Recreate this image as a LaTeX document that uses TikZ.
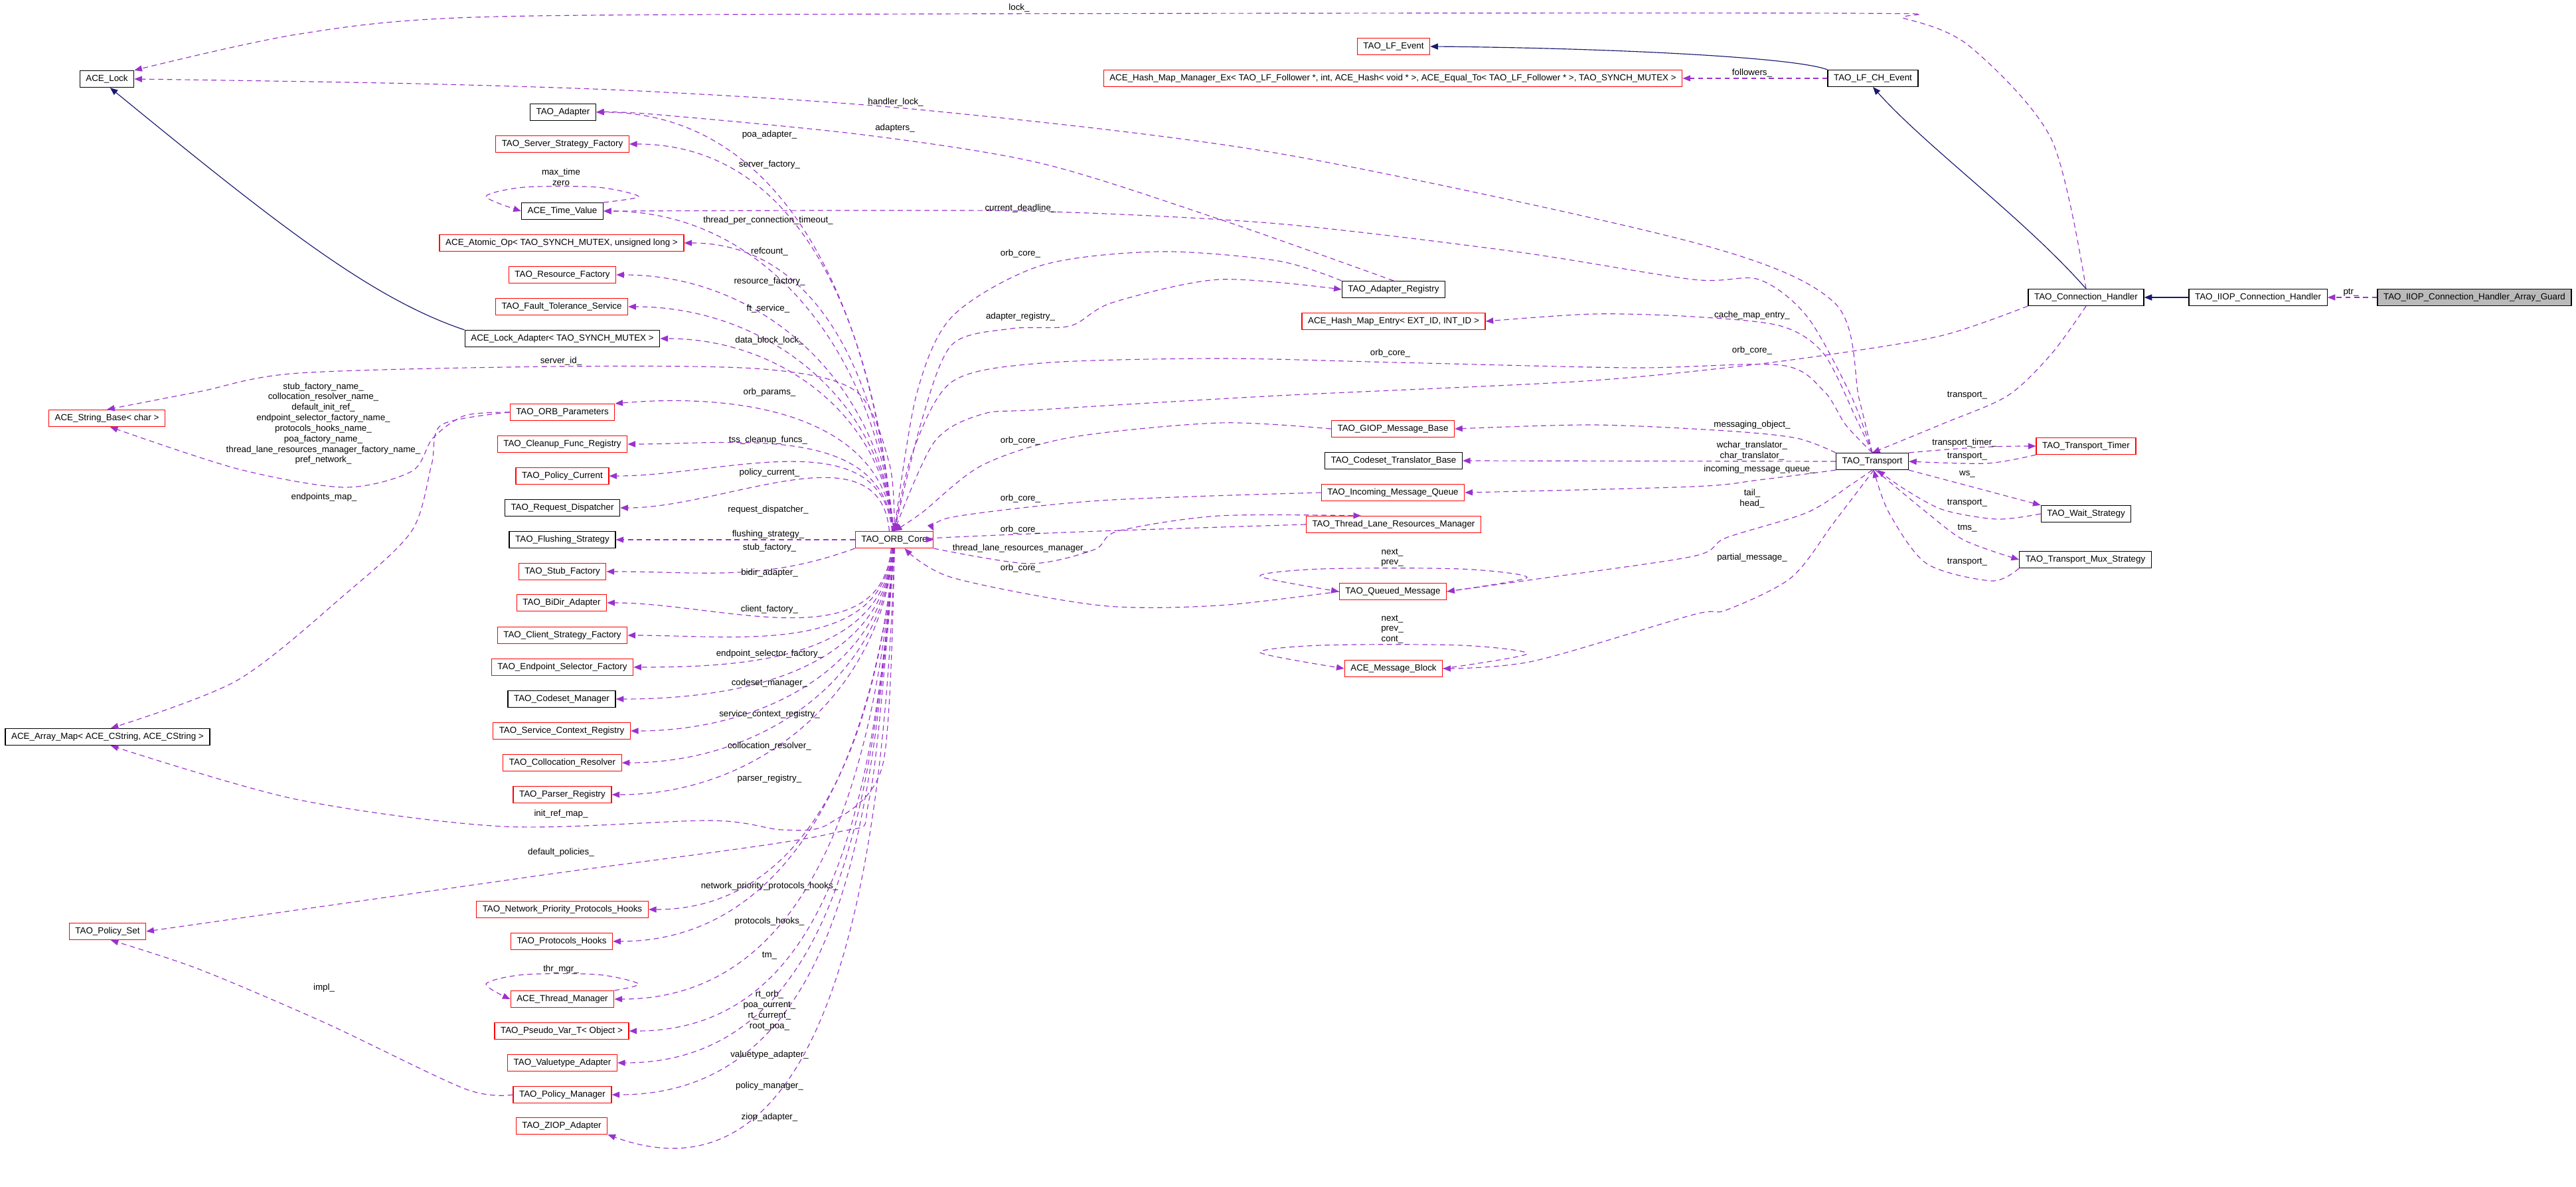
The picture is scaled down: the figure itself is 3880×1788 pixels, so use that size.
\documentclass[tikz,border=0pt]{standalone}
\usepackage{fontspec}
\setmainfont{Liberation Sans}
\usetikzlibrary{arrows.meta}
\definecolor{purp}{HTML}{9A32CD}
\definecolor{navy}{HTML}{191970}
\newcommand\dxfont{\fontsize{3.8}{4.5}\selectfont}
\tikzset{
 box/.style={draw=black,line width=0.35pt,fill=white,inner xsep=2.6pt,inner ysep=0pt,minimum height=7.1pt,font=\dxfont},
 rbox/.style={box,draw=red},
 gbox/.style={box,fill=black!27},
 mem/.style={draw=purp,line width=0.33pt,dash pattern=on 2.2pt off 1.6pt,-{Triangle[length=3.3pt,width=2.6pt]}},
 inh/.style={draw=navy,line width=0.33pt,-{Triangle[length=3.3pt,width=2.6pt]}},
 lbl/.style={font=\dxfont,inner sep=0pt,align=center}
}
\begin{document}
\begin{tikzpicture}[x=0.01cm,y=-0.01cm]
\useasboundingbox (0,0) rectangle (3880,1788);
% left column
\node[box]  (lock) at (161,119) {ACE\_Lock};
\node[box]  (adp)  at (848,169) {TAO\_Adapter};
\node[rbox] (ssf)  at (847,217) {TAO\_Server\_Strategy\_Factory};
\node[box]  (tv)   at (847,318) {ACE\_Time\_Value};
\node[rbox] (atom) at (846,366) {ACE\_Atomic\_Op< TAO\_SYNCH\_MUTEX, unsigned long >};
\node[rbox] (rf)   at (847,414) {TAO\_Resource\_Factory};
\node[rbox] (fts)  at (846,462) {TAO\_Fault\_Tolerance\_Service};
\node[box]  (lad)  at (847,510) {ACE\_Lock\_Adapter< TAO\_SYNCH\_MUTEX >};
\node[rbox] (sb)   at (161,630) {ACE\_String\_Base< char >};
\node[rbox] (op)   at (847,621) {TAO\_ORB\_Parameters};
\node[rbox] (cfr)  at (847,669) {TAO\_Cleanup\_Func\_Registry};
\node[rbox] (pc)   at (847,717) {TAO\_Policy\_Current};
\node[box]  (rd)   at (847,765) {TAO\_Request\_Dispatcher};
\node[box]  (fs)   at (847,813) {TAO\_Flushing\_Strategy};
\node[rbox] (sf)   at (847,861) {TAO\_Stub\_Factory};
\node[rbox] (bd)   at (846,908) {TAO\_BiDir\_Adapter};
\node[rbox] (csf)  at (847,957) {TAO\_Client\_Strategy\_Factory};
\node[rbox] (esf)  at (847,1005) {TAO\_Endpoint\_Selector\_Factory};
\node[box]  (cm)   at (846,1053) {TAO\_Codeset\_Manager};
\node[rbox] (scr)  at (846,1101) {TAO\_Service\_Context\_Registry};
\node[rbox] (cr)   at (847,1149) {TAO\_Collocation\_Resolver};
\node[rbox] (pr)   at (847,1197) {TAO\_Parser\_Registry};
\node[box]  (am)   at (162,1110) {ACE\_Array\_Map< ACE\_CString, ACE\_CString >};
\node[rbox] (ps)   at (162,1403) {TAO\_Policy\_Set};
\node[rbox] (nph)  at (847,1370) {TAO\_Network\_Priority\_Protocols\_Hooks};
\node[rbox] (ph)   at (846,1418) {TAO\_Protocols\_Hooks};
\node[rbox] (thm)  at (847,1505) {ACE\_Thread\_Manager};
\node[rbox] (pv)   at (846,1553) {TAO\_Pseudo\_Var\_T< Object >};
\node[rbox] (va)   at (847,1601) {TAO\_Valuetype\_Adapter};
\node[rbox] (pm)   at (847,1649) {TAO\_Policy\_Manager};
\node[rbox] (zio)  at (846,1696) {TAO\_ZIOP\_Adapter};
\node[rbox] (orb)  at (1347,813) {TAO\_ORB\_Core};
% middle column
\node[rbox] (lfe)  at (2099,70) {TAO\_LF\_Event};
\node[rbox] (hmm)  at (2098,118) {ACE\_Hash\_Map\_Manager\_Ex< TAO\_LF\_Follower *, int, ACE\_Hash< void * >, ACE\_Equal\_To< TAO\_LF\_Follower * >, TAO\_SYNCH\_MUTEX >};
\node[box]  (ar)   at (2099,436) {TAO\_Adapter\_Registry};
\node[rbox] (hme)  at (2099,484) {ACE\_Hash\_Map\_Entry< EXT\_ID, INT\_ID >};
\node[rbox] (gmb)  at (2098,646) {TAO\_GIOP\_Message\_Base};
\node[box]  (ctb)  at (2099,694) {TAO\_Codeset\_Translator\_Base};
\node[rbox] (imq)  at (2098,742) {TAO\_Incoming\_Message\_Queue};
\node[rbox] (tlrm) at (2099,790) {TAO\_Thread\_Lane\_Resources\_Manager};
\node[rbox] (qm)   at (2098,891) {TAO\_Queued\_Message};
\node[rbox] (mbk)  at (2099,1007) {ACE\_Message\_Block};
% right
\node[box]  (lfch) at (2821,118) {TAO\_LF\_CH\_Event};
\node[box]  (ch)   at (3142,448) {TAO\_Connection\_Handler};
\node[box]  (iiop) at (3401,448) {TAO\_IIOP\_Connection\_Handler};
\node[gbox] (grd)  at (3727,448) {TAO\_IIOP\_Connection\_Handler\_Array\_Guard};
\node[box]  (tr)   at (2820,695) {TAO\_Transport};
\node[rbox] (tt)   at (3142,672) {TAO\_Transport\_Timer};
\node[box]  (ws)   at (3142,774) {TAO\_Wait\_Strategy};
\node[box]  (mux)  at (3141,843) {TAO\_Transport\_Mux\_Strategy};

% inheritance
\draw[inh] (lad.north west) .. controls (560,450) and (420,340) .. (lock.-70);
\draw[inh] (lfch.north west) .. controls (2700,85) and (2400,72) .. (lfe.east);
\draw[inh] (ch.north) .. controls (3050,330) and (2900,220) .. (lfch.south);
\draw[inh] (iiop.west) -- (ch.east);

% ORB_Core members above
\foreach \t/\a in {adp/100,ssf/98,tv/96,atom/95,rf/95,fts/95,lad/97,cfr/100,pc/105,rd/120}
  \draw[mem] (orb.\a) to[out=95,in=0] (\t.east);
\draw[mem] (orb.95) to[out=95,in=5] (op.north east);
\draw[mem] (orb.west) -- (fs.east);
\draw[mem] (orb.south west) to[out=200,in=0] (sf.east);
\foreach \t/\a in {bd/250,csf/255,esf/260,cm/262,scr/264,cr/265,pr/266,nph/268,ph/268,thm/269,pv/270,va/270,pm/270}
  \draw[mem] (orb.\a) to[out=-95,in=0] (\t.east);
\draw[mem] (orb.272) to[out=-92,in=-20] (zio.south east);
\foreach \p/\s in {{1159,203}/poa\_adapter\_,{1159,248}/server\_factory\_,{1157,332}/thread\_per\_connection\_timeout\_,{1159,379}/refcount\_,{1159,424}/resource\_factory\_,{1157,465}/ft\_service\_,{1159,513}/data\_block\_lock\_,{1159,591}/orb\_params\_,{1157,663}/tss\_cleanup\_funcs\_,{1159,712}/policy\_current\_,{1157,768}/request\_dispatcher\_,{1157,805}/flushing\_strategy\_,{1159,825}/stub\_factory\_,{1159,863}/bidir\_adapter\_,{1159,918}/client\_factory\_,{1159,985}/endpoint\_selector\_factory\_,{1159,1029}/codeset\_manager\_,{1159,1076}/service\_context\_registry\_,{1159,1124}/collocation\_resolver\_,{1159,1173}/parser\_registry\_,{1159,1335}/network\_priority\_protocols\_hooks\_,{1159,1388}/protocols\_hooks\_,{1159,1440}/tm\_,{1159,1589}/valuetype\_adapter\_,{1159,1636}/policy\_manager\_,{1159,1683}/ziop\_adapter\_}
  \node[lbl] at (\p) {\s};
\node[lbl] at (1159,1522) {rt\_orb\_\\poa\_current\_\\rt\_current\_\\root\_poa\_};

% self loops
\draw[mem] plot[smooth] coordinates {(tv.north east) (962,296) (900,282) (790,282) (732,296) (tv.west)};
\node[lbl] at (845,267) {max\_time\\zero};
\draw[mem] plot[smooth] coordinates {(thm.north east) (962,1482) (900,1468) (790,1468) (732,1482) (thm.west)};
\node[lbl] at (845,1460) {thr\_mgr\_};
\draw[mem] plot[smooth] coordinates {(qm.east) (2300,870) (2200,857) (1990,857) (1898,868) (qm.west)};
\node[lbl] at (2097,840) {next\_\\prev\_};
\draw[mem] plot[smooth] coordinates {(mbk.east) (2300,985) (2200,972) (1990,972) (1898,983) (mbk.west)};
\node[lbl] at (2097,948) {next\_\\prev\_\\cont\_};

% left misc
\draw[mem] plot[smooth] coordinates {(orb.north) (1340,700) (1290,590) (1150,556) (845,552) (450,562) (300,590) (sb.north)};
\node[lbl] at (845,544) {server\_id\_};
\draw[mem] plot[smooth] coordinates {(op.west) (700,626) (652,660) (620,710) (518,734) (357,706) (sb.-70)};
\node[lbl] at (487,638) {stub\_factory\_name\_\\collocation\_resolver\_name\_\\default\_init\_ref\_\\endpoint\_selector\_factory\_name\_\\protocols\_hooks\_name\_\\poa\_factory\_name\_\\thread\_lane\_resources\_manager\_factory\_name\_\\pref\_network\_};
\draw[mem] plot[smooth] coordinates {(op.west) (665,640) (650,700) (620,800) (520,895) (357,1025) (am.70)};
\node[lbl] at (488,749) {endpoints\_map\_};
\draw[mem] plot[smooth] coordinates {(orb.south) (1330,1150) (1250,1240) (1179,1250) (1071,1236) (759,1245) (446,1204) (am.-70)};
\node[lbl] at (845,1226) {init\_ref\_map\_};
\draw[mem] plot[smooth] coordinates {(orb.south) (1310,1200) (1250,1256) (804,1320) (ps.east)};
\node[lbl] at (845,1284) {default\_policies\_};
\draw[mem] plot[smooth] coordinates {(pm.west) (700,1640) (488,1540) (300,1460) (ps.-70)};
\node[lbl] at (488,1488) {impl\_};

% top edges
\draw[mem] plot[smooth] coordinates {(ch.north) (3090,210) (2967,70) (2869,28) (2780,20) (1400,21) (714,26) (446,52) (lock.north east)};
\node[lbl] at (1535,12) {lock\_};
\draw[mem] plot[smooth] coordinates {(tr.north) (2800,600) (2763,456) (2550,365) (1925,231) (1393,166) (982,138) (625,126) (lock.east)};
\node[lbl] at (1349,154) {handler\_lock\_};
\draw[mem] plot[smooth] coordinates {(ar.north) (1836,330) (1568,246) (1300,203) (982,172) (adp.east)};
\node[lbl] at (1348,193) {adapters\_};
\draw[mem] plot[smooth] coordinates {(tr.north) (2788,596) (2722,477) (2649,421) (2550,421) (2282,379) (1925,337) (1586,319) (1300,317) (tv.east)};
\node[lbl] at (1537,314) {current\_deadline\_};
\draw[mem] (lfch.west) -- (hmm.east);
\node[lbl] at (2639,110) {followers\_};

% Adapter registry
\draw[mem] plot[smooth] coordinates {(orb.north) (1389,631) (1434,519) (1523,495) (1612,491) (1675,456) (1836,421) (ar.west)};
\node[lbl] at (1537,477) {adapter\_registry\_};
\draw[mem] plot[smooth] coordinates {(ar.north west) (1925,393) (1746,379) (1568,400) (1434,477) (1380,596) (orb.north)};
\node[lbl] at (1537,382) {orb\_core\_};

% transport related
\draw[mem] plot[smooth] coordinates {(tr.north) (2796,631) (2747,533) (2682,491) (2550,477) (2400,473) (hme.east)};
\node[lbl] at (2639,475) {cache\_map\_entry\_};
\draw[mem] plot[smooth] coordinates {(tr.north) (2780,640) (2747,589) (2682,550) (2461,554) (2104,546) (1836,540) (1568,547) (1434,575) (1375,680) (orb.north)};
\node[lbl] at (2094,532) {orb\_core\_};
\draw[mem] plot[smooth] coordinates {(ch.south west) (2927,505) (2763,533) (2600,554) (2371,575) (1925,596) (1568,617) (1479,624) (1407,666) (orb.north)};
\node[lbl] at (2639,528) {orb\_core\_};
\draw[mem] plot[smooth] coordinates {(tr.north west) (2706,660) (2600,649) (2400,640) (gmb.east)};
\node[lbl] at (2639,640) {messaging\_object\_};
\draw[mem] plot[smooth] coordinates {(gmb.west) (1836,637) (1612,659) (1479,701) (1389,772) (orb.north)};
\node[lbl] at (1537,664) {orb\_core\_};
\draw[mem] (tr.west) -- (ctb.east);
\node[lbl] at (2639,679) {wchar\_translator\_\\char\_translator\_};
\draw[mem] plot[smooth] coordinates {(tr.south west) (2649,723) (2550,733) (imq.east)};
\node[lbl] at (2650,707) {incoming\_message\_queue\_};
\draw[mem] plot[smooth] coordinates {(imq.west) (1657,754) (1434,779) (orb.north east)};
\node[lbl] at (1537,751) {orb\_core\_};
\draw[mem] plot[smooth] coordinates {(tlrm.west) (1657,800) (1416,810) (orb.east)};
\node[lbl] at (1537,798) {orb\_core\_};
\draw[mem] plot[smooth] coordinates {(orb.south east) (1550,849) (1648,828) (1684,800) (1836,777) (tlrm.165)};
\node[lbl] at (1537,826) {thread\_lane\_resources\_manager\_};
\draw[mem] plot[smooth] coordinates {(qm.west) (1836,912) (1657,912) (1434,870) (orb.-40)};
\node[lbl] at (1537,856) {orb\_core\_};
\draw[mem] plot[smooth] coordinates {(tr.south) (2788,730) (2722,772) (2600,810) (2550,838) (2309,873) (qm.east)};
\node[lbl] at (2639,751) {tail\_\\head\_};
\draw[mem] plot[smooth] coordinates {(tr.-80) (2763,786) (2698,870) (2600,919) (2550,926) (2309,996) (mbk.east)};
\node[lbl] at (2639,840) {partial\_message\_};

% connection handler side
\draw[mem] (grd.west) -- (iiop.east);
\node[lbl] at (3541,441) {ptr\_};
\draw[mem] plot[smooth] coordinates {(ch.south) (3090,533) (3024,596) (2927,638) (tr.north)};
\node[lbl] at (2963,596) {transport\_};
\draw[mem] (tr.north east) to[out=5,in=180] (tt.west);
\node[lbl] at (2959,667) {transport\_timer\_};
\draw[mem] plot[smooth] coordinates {(tt.south west) (2992,698) (tr.east)};
\node[lbl] at (2963,688) {transport\_};
\draw[mem] plot[smooth] coordinates {(tr.south east) (2984,737) (ws.north west)};
\node[lbl] at (2963,714) {ws\_};
\draw[mem] plot[smooth] coordinates {(ws.west) (3008,782) (2927,768) (2869,737) (tr.-60)};
\node[lbl] at (2963,758) {transport\_};
\draw[mem] plot[smooth] coordinates {(tr.-70) (2902,772) (2959,814) (mux.west)};
\node[lbl] at (2963,796) {tms\_};
\draw[mem] plot[smooth] coordinates {(mux.south west) (3000,875) (2902,849) (2845,772) (tr.-80)};
\node[lbl] at (2963,847) {transport\_};
\end{tikzpicture}
\end{document}
